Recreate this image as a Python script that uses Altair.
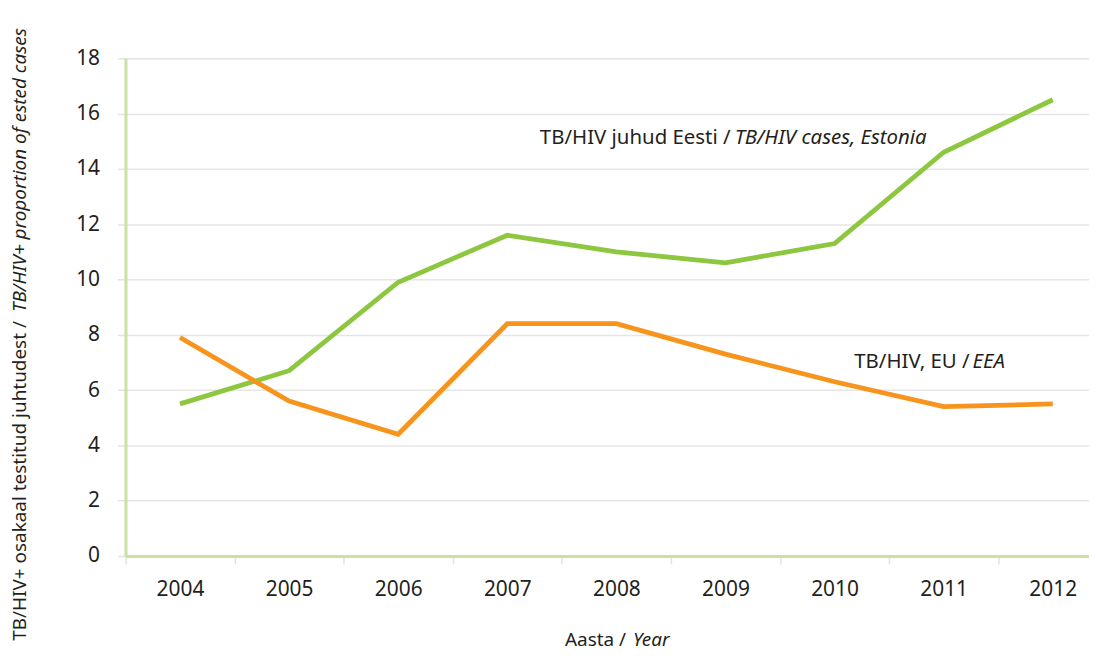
import altair as alt
import pandas as pd

years = [2004, 2005, 2006, 2007, 2008, 2009, 2010, 2011, 2012]
estonia = [5.5, 6.7, 9.9, 11.6, 11.0, 10.6, 11.3, 14.6, 16.5]
eu = [7.9, 5.6, 4.4, 8.4, 8.4, 7.3, 6.3, 5.4, 5.5]
series_names = ["Eesti", "EU"]
series_colors = ["#8dc63f", "#f7941d"]
y_ticks = [0, 2, 4, 6, 8, 10, 12, 14, 16, 18]

FONT = "Noto Sans"
TXT = "#231f20"

rows = []
for yr, a, b in zip(years, estonia, eu):
    rows.append({"year": yr, "value": a, "series": "Eesti"})
    rows.append({"year": yr, "value": b, "series": "EU"})
df = pd.DataFrame(rows)

W = 968
step = 109.6
x0 = years[0] - 0.5
x1 = x0 + W / step

xscale = alt.Scale(domain=[x0, x1], nice=False, zero=False)
yscale = alt.Scale(domain=[0, 18], nice=False)

half_ticks = [y - 0.5 for y in years]

lines = alt.Chart(df).mark_line(strokeWidth=4.8, strokeJoin="miter", strokeCap="butt").encode(
    x=alt.X("year:Q", scale=xscale, title=None,
            axis=alt.Axis(values=half_ticks, labelExpr="format(datum.value + 0.5, 'd')",
                          labelOffset=step / 2, tickSize=8, tickColor="#e3e3e3", tickWidth=1.5,
                          domainColor="#c8e2a4", domainWidth=3, grid=False,
                          labelFont=FONT, labelFontSize=21, labelColor=TXT,
                          labelPadding=15, labelFlush=False, labelOverlap=False)),
    y=alt.Y("value:Q", scale=yscale, title=None,
            axis=alt.Axis(values=y_ticks, format="d", tickSize=8, tickColor="#e3e3e3", tickWidth=1.5,
                          domainColor="#c8e2a4", domainWidth=3,
                          grid=True, gridColor="#e6e6e6", gridWidth=1.5,
                          labelFont=FONT, labelFontSize=21, labelColor=TXT, labelPadding=18)),
    color=alt.Color("series:N", scale=alt.Scale(domain=series_names, range=series_colors), legend=None),
)

ann = pd.DataFrame({
    "x": [2009.047, 2009.084, 2011.237, 2011.265],
    "y": [15.12, 15.12, 7.02, 7.02],
    "t": ["TB/HIV juhud Eesti /", "TB/HIV cases, Estonia", "TB/HIV, EU /", "EEA"],
    "style": ["normal", "italic", "normal", "italic"],
})

ann_regular = alt.Chart(ann[ann["style"] == "normal"]).mark_text(
    align="right", baseline="middle", font=FONT, fontSize=20.5, color=TXT
).encode(x=alt.X("x:Q", scale=xscale), y=alt.Y("y:Q", scale=yscale), text="t:N")

ann_italic = alt.Chart(ann[ann["style"] == "italic"]).mark_text(
    align="left", baseline="middle", font=FONT, fontSize=20.5, fontStyle="italic", color=TXT
).encode(x=alt.X("x:Q", scale=xscale), y=alt.Y("y:Q", scale=yscale), text="t:N")

one = pd.DataFrame({"k": [0]})

ytitle_a = alt.Chart(one).mark_text(
    align="right", baseline="middle", angle=270, font=FONT, fontSize=19, color=TXT
).encode(x=alt.value(-106), y=alt.value(264), text=alt.value("TB/HIV+ osakaal testitud juhtudest /"))
ytitle_b = alt.Chart(one).mark_text(
    align="left", baseline="middle", angle=270, font=FONT, fontSize=19, fontStyle="italic", color=TXT
).encode(x=alt.value(-106), y=alt.value(255), text=alt.value("TB/HIV+ proportion of ested cases"))

xtitle_a = alt.Chart(one).mark_text(
    align="right", baseline="middle", font=FONT, fontSize=19, color=TXT
).encode(x=alt.value(503), y=alt.value(584), text=alt.value("Aasta /"))
xtitle_b = alt.Chart(one).mark_text(
    align="left", baseline="middle", font=FONT, fontSize=19, fontStyle="italic", color=TXT
).encode(x=alt.value(510), y=alt.value(584), text=alt.value("Year"))

chart = alt.layer(lines, ann_regular, ann_italic, ytitle_a, ytitle_b, xtitle_a, xtitle_b).properties(
    width=W, height=500,
    autosize=alt.AutoSizeParams(type="none"),
    padding={"left": 118, "top": 49, "right": 0, "bottom": 98},
).configure_view(stroke=None).configure(background="white")

chart.save("out.html", embed_options={"renderer": "svg", "actions": False})
